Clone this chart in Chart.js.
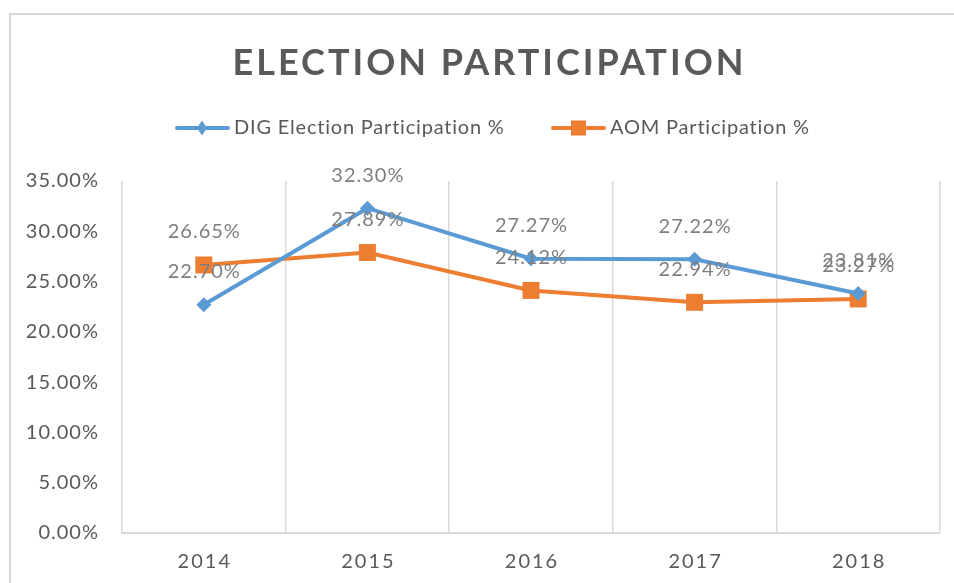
<!DOCTYPE html>
<html>
<head>
<meta charset="utf-8">
<script src="https://cdn.jsdelivr.net/npm/chart.js@4.4.1/dist/chart.umd.min.js"></script>
<style>
  html, body { margin: 0; padding: 0; background: #fff; }
  #wrap { width: 954px; height: 583px; }
</style>
</head>
<body>
<div id="wrap"><canvas id="chart" width="954" height="583"></canvas></div>
<script>
// --- du lieu doc tu hinh ---
const years = ['2014', '2015', '2016', '2017', '2018'];
const digValues = [22.70, 32.30, 27.27, 27.22, 23.81];
const aomValues = [26.65, 27.89, 24.12, 22.94, 23.27];
const yTicks = [0, 5, 10, 15, 20, 25, 30, 35];

const titleText = 'ELECTION PARTICIPATION';
const digLabel = 'DIG Election Participation %';
const aomLabel = 'AOM Participation %';

const BLUE = '#5B9BD5';
const ORANGE = '#ED7D31';
const AXIS_TEXT = '#595959';
const LABEL_TEXT = '#7F7F7F';
const GRID = '#D9D9D9';

Chart.defaults.font.family = 'Lato, "Open Sans", sans-serif';

// --------------------------------------------------------
// Plugin: nen, khung, tieu de, chu giai, nhan truc X, nhan du lieu
// --------------------------------------------------------
const excelLook = {
    id: 'excelLook',
    beforeDraw(chart) {
        const ctx = chart.ctx;
        ctx.save();
        ctx.fillStyle = '#fff';
        ctx.fillRect(0, 0, chart.width, chart.height);
        // khung ngoai (chi thay canh trai va canh tren)
        ctx.strokeStyle = GRID;
        ctx.lineWidth = 2;
        ctx.beginPath();
        ctx.moveTo(10, chart.height + 5);
        ctx.lineTo(10, 14);
        ctx.lineTo(chart.width + 5, 14);
        ctx.stroke();

        // tieu de
        ctx.fillStyle = AXIS_TEXT;
        ctx.font = 'bold 36px Lato, "Open Sans", sans-serif';
        ctx.letterSpacing = '3px';
        ctx.textAlign = 'center';
        ctx.textBaseline = 'alphabetic';
        ctx.fillText(titleText, 489.5, 75);

        // chu giai
        ctx.letterSpacing = '0.8px';
        ctx.font = '20px Lato, "Open Sans", sans-serif';
        ctx.textAlign = 'left';
        ctx.textBaseline = 'middle';
        const ly = 128;
        // DIG
        ctx.strokeStyle = BLUE;
        ctx.lineWidth = 4;
        ctx.lineCap = 'round';
        ctx.beginPath();
        ctx.moveTo(177, ly);
        ctx.lineTo(228, ly);
        ctx.stroke();
        ctx.fillStyle = BLUE;
        ctx.beginPath();
        ctx.moveTo(202, ly - 7.5);
        ctx.lineTo(207, ly);
        ctx.lineTo(202, ly + 7.5);
        ctx.lineTo(197, ly);
        ctx.closePath();
        ctx.fill();
        ctx.fillStyle = AXIS_TEXT;
        ctx.fillText(digLabel, 234, ly);
        // AOM
        ctx.strokeStyle = ORANGE;
        ctx.beginPath();
        ctx.moveTo(553, ly);
        ctx.lineTo(604, ly);
        ctx.stroke();
        ctx.fillStyle = ORANGE;
        ctx.fillRect(571, ly - 7.5, 15, 15);
        ctx.fillStyle = AXIS_TEXT;
        ctx.fillText(aomLabel, 610, ly);
        ctx.restore();

        // de nhan truc Y (do Chart.js ve) gian chu mot chut
        ctx.letterSpacing = '1px';
    },
    afterDraw(chart) {
        const ctx = chart.ctx;
        const x = chart.scales.x;
        ctx.save();
        ctx.fillStyle = AXIS_TEXT;
        ctx.font = '20px Lato, "Open Sans", sans-serif';
        ctx.letterSpacing = '2px';
        ctx.textAlign = 'center';
        ctx.textBaseline = 'alphabetic';
        years.forEach((yr, i) => {
            ctx.fillText(yr, x.getPixelForValue(i) + 1, 568);
        });
        ctx.restore();
        ctx.letterSpacing = '0px';
    },
    afterDatasetsDraw(chart) {
        const ctx = chart.ctx;
        ctx.save();
        ctx.fillStyle = LABEL_TEXT;
        ctx.font = '20px Lato, "Open Sans", sans-serif';
        ctx.letterSpacing = '1px';
        ctx.textAlign = 'center';
        ctx.textBaseline = 'alphabetic';
        chart.data.datasets.forEach((ds, di) => {
            const meta = chart.getDatasetMeta(di);
            meta.data.forEach((pt, i) => {
                ctx.fillText(ds.data[i].toFixed(2) + '%', pt.x + 0.5, pt.y - 26.5);
            });
        });
        ctx.restore();
    }
};

new Chart(document.getElementById('chart'), {
    type: 'line',
    data: {
        labels: years,
        datasets: [{
            label: digLabel,
            data: digValues,
            borderColor: BLUE,
            backgroundColor: BLUE,
            borderWidth: 4,
            tension: 0,
            pointStyle: 'rectRot',
            pointRadius: 7.5,
            pointBorderWidth: 0,
            pointBackgroundColor: BLUE
        }, {
            label: aomLabel,
            data: aomValues,
            borderColor: ORANGE,
            backgroundColor: ORANGE,
            borderWidth: 4,
            tension: 0,
            pointStyle: 'rect',
            pointRadius: 12,
            pointBorderWidth: 0,
            pointBackgroundColor: ORANGE
        }]
    },
    options: {
        responsive: false,
        animation: false,
        layout: { padding: { top: 181, bottom: 50, left: 0, right: 14 } },
        plugins: {
            legend: { display: false },
            title: { display: false },
            tooltip: { enabled: false }
        },
        scales: {
            x: {
                offset: true,
                grid: { offset: true, color: GRID, lineWidth: 1.5, drawTicks: false },
                border: { color: GRID, width: 2 },
                ticks: { display: false },
                afterFit(scale) { scale.height = 0; }
            },
            y: {
                min: yTicks[0],
                max: yTicks[yTicks.length - 1],
                afterBuildTicks(scale) {
                    scale.ticks = yTicks.map(v => ({ value: v }));
                },
                grid: { display: false, drawTicks: false },
                border: { display: false },
                ticks: {
                    color: AXIS_TEXT,
                    font: { size: 20 },
                    padding: 23,
                    callback: v => v.toFixed(2) + '%'
                },
                afterFit(scale) { scale.width = 122; }
            }
        }
    },
    plugins: [excelLook]
});
</script>
</body>
</html>
